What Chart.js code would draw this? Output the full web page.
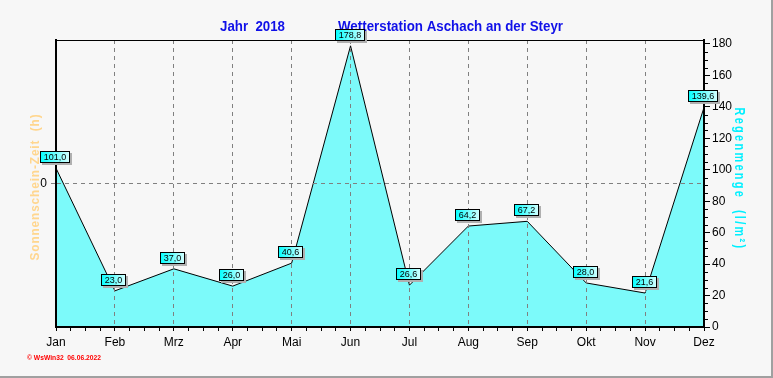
<!DOCTYPE html>
<html>
<head>
<meta charset="utf-8">
<script src="https://cdn.jsdelivr.net/npm/chart.js@4.4.1/dist/chart.umd.min.js"></script>
<style>
  html, body { margin: 0; padding: 0; background: #f7f7f7; overflow: hidden; }
  canvas { display: block; }
</style>
</head>
<body>
<canvas id="rainChart" width="773" height="378"></canvas>
<script>
// Monatswerte Regenmenge 2018 (l/m²)
const months = ['Jan', 'Feb', 'Mrz', 'Apr', 'Mai', 'Jun', 'Jul', 'Aug', 'Sep', 'Okt', 'Nov', 'Dez'];
const rain = [101.0, 23.0, 37.0, 26.0, 40.6, 178.8, 26.6, 64.2, 67.2, 28.0, 21.6, 139.6];
const rainTicks = [0, 20, 40, 60, 80, 100, 120, 140, 160, 180];
const sunTicks = [0];

const titleYear = 'Jahr  2018';
const titleStation = 'Wetterstation Aschach an der Steyr';
const sunAxisTitle = 'Sonnenschein-Zeit  (h)';
const rainAxisTitle = 'Regenmenge  (l/m²)';
const footerText = '© WsWin32  06.06.2022';

const FONT = "'Liberation Sans', Arial, sans-serif";

// minor ticks on x (quarter months) and right axis (every 5)
const xTickValues = [];
for (let i = 0; i <= (months.length - 1) * 4; i++) xTickValues.push(i / 4);

const frame = {
  id: 'frame',
  afterDraw(chart) {
    const { ctx, chartArea: a } = chart;
    ctx.save();
    // top border of plot
    ctx.strokeStyle = '#000';
    ctx.lineWidth = 1;
    ctx.beginPath();
    ctx.moveTo(a.left - 1, a.top + 0.5);
    ctx.lineTo(a.right + 1, a.top + 0.5);
    ctx.stroke();

    // minor ticks right axis
    const y = chart.scales.y;
    for (let v = 5; v < 180; v += 5) {
      if (v % 20 === 0) continue;
      const py = Math.round(y.getPixelForValue(v)) + 0.5;
      ctx.beginPath();
      ctx.moveTo(y.left + 1, py);
      ctx.lineTo(y.left + 4, py);
      ctx.stroke();
    }

    // outer window edge
    ctx.fillStyle = '#a0a0a0';
    ctx.fillRect(chart.width - 2, 0, 2, chart.height);
    ctx.fillRect(0, chart.height - 2, chart.width, 2);

    // titles
    ctx.fillStyle = '#1010e8';
    ctx.font = 'bold 15px ' + FONT;
    ctx.textBaseline = 'alphabetic';
    ctx.textAlign = 'left';
    ctx.fillText(titleYear, 220, 31, 65);
    ctx.fillText(titleStation, 338, 31, 225);

    // left axis title
    ctx.save();
    ctx.translate(39, 187);
    ctx.rotate(-Math.PI / 2);
    ctx.fillStyle = '#ffd68e';
    ctx.font = 'bold 13px ' + FONT;
    ctx.textAlign = 'center';
    ctx.letterSpacing = '1px';
    ctx.fillText(sunAxisTitle, 0, 0, 147);
    ctx.restore();

    // right axis title
    ctx.save();
    ctx.translate(735, 179);
    ctx.rotate(Math.PI / 2);
    ctx.fillStyle = '#00f0ff';
    ctx.font = 'bold 14px ' + FONT;
    ctx.textAlign = 'center';
    ctx.letterSpacing = '3px';
    ctx.fillText(rainAxisTitle, 0, 0, 143);
    ctx.restore();

    // footer
    ctx.fillStyle = '#ff0000';
    ctx.font = 'bold 8px ' + FONT;
    ctx.textAlign = 'left';
    ctx.fillText(footerText, 27, 360, 74);
    ctx.restore();
  }
};

const valueLabels = {
  id: 'valueLabels',
  afterDraw(chart) {
    const ctx = chart.ctx;
    const meta = chart.getDatasetMeta(0);
    ctx.save();
    ctx.font = '9px ' + FONT;
    meta.data.forEach((pt, i) => {
      const text = rain[i].toFixed(1).replace('.', ',');
      const w = Math.round(ctx.measureText(text).width) + 7;
      const h = 12;
      const x = Math.round(pt.x - w / 2) - 1;
      const y = Math.round(pt.y) - 5 - h;
      ctx.fillStyle = '#b0b0b0';
      ctx.fillRect(x + 2, y + 2, w, h);
      const g = ctx.createLinearGradient(x, 0, x + w, 0);
      g.addColorStop(0, '#00ffff');
      g.addColorStop(1, '#d8ffff');
      ctx.fillStyle = g;
      ctx.fillRect(x, y, w, h);
      ctx.strokeStyle = '#000';
      ctx.lineWidth = 1;
      ctx.strokeRect(x + 0.5, y + 0.5, w - 1, h - 1);
      ctx.fillStyle = '#000';
      ctx.textAlign = 'center';
      ctx.textBaseline = 'middle';
      ctx.fillText(text, x + w / 2, y + h / 2 + 0.5);
    });
    ctx.restore();
  }
};

new Chart(document.getElementById('rainChart'), {
  type: 'line',
  data: {
    datasets: [
      {
        label: 'Regenmenge',
        data: rain.map((v, i) => ({ x: i, y: v })),
        yAxisID: 'y',
        borderColor: '#000',
        borderWidth: 1,
        backgroundColor: '#7cfafa',
        fill: 'origin',
        tension: 0,
        pointRadius: 0,
      },
    ],
  },
  options: {
    responsive: false,
    animation: false,
    events: [],
    layout: { padding: { top: 40, left: 0, right: 0, bottom: 0 } },
    scales: {
      x: {
        type: 'linear',
        min: 0,
        max: months.length - 1,
        afterBuildTicks: (s) => { s.ticks = xTickValues.map((v) => ({ value: v })); },
        afterFit: (s) => { s.height = 51; },
        ticks: {
          autoSkip: false,
          maxRotation: 0,
          padding: 4,
          color: '#000',
          font: { family: FONT, size: 12 },
          callback: (v) => (Number.isInteger(v) ? months[v] : ''),
        },
        grid: {
          z: 1,
          lineWidth: 1,
          tickLength: 4,
          tickColor: '#000',
          color: (c) => {
            const v = c.tick && c.tick.value;
            return Number.isInteger(v) && v > 0 && v < months.length - 1 ? '#808080' : 'rgba(0,0,0,0)';
          },
        },
        border: { z: 1, color: '#000', width: 2, dash: [4, 4] },
      },
      y: {
        position: 'right',
        min: 0,
        max: 182.5,
        afterBuildTicks: (s) => { s.ticks = rainTicks.map((v) => ({ value: v })); },
        afterFit: (s) => { s.width = 69; },
        ticks: {
          padding: 2,
          color: '#000',
          font: { family: FONT, size: 12 },
        },
        grid: {
          z: 1,
          drawOnChartArea: false,
          tickLength: 6,
          tickColor: '#000',
        },
        border: { z: 1, color: '#000', width: 2 },
      },
      ySun: {
        position: 'left',
        min: -1,
        max: 1,
        afterBuildTicks: (s) => { s.ticks = sunTicks.map((v) => ({ value: v })); },
        afterFit: (s) => { s.width = 56; },
        ticks: {
          padding: 4,
          color: '#000',
          font: { family: FONT, size: 12 },
        },
        grid: {
          z: 1,
          color: '#808080',
          tickLength: 5,
          tickColor: '#808080',
          tickBorderDash: [4, 4],
        },
        border: { z: 1, color: '#000', width: 2, dash: [4, 4] },
      },
    },
    plugins: {
      legend: { display: false },
      tooltip: { enabled: false },
    },
  },
  plugins: [frame, valueLabels],
});
</script>
</body>
</html>
